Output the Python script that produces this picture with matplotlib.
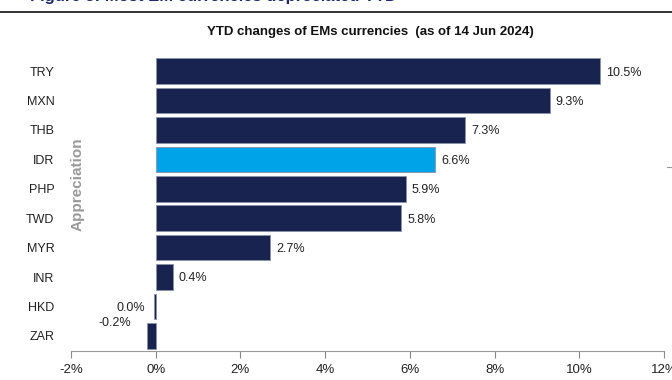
import matplotlib
matplotlib.use('Agg')
from matplotlib import pyplot as plt
from matplotlib.ticker import FuncFormatter

currencies = ['TRY', 'MXN', 'THB', 'IDR', 'PHP', 'TWD', 'MYR', 'INR', 'HKD', 'ZAR']
changes = [10.5, 9.3, 7.3, 6.6, 5.9, 5.8, 2.7, 0.4, -0.05, -0.2]
labels = ['10.5%', '9.3%', '7.3%', '6.6%', '5.9%', '5.8%', '2.7%', '0.4%', '0.0%', '-0.2%']
highlight = 'IDR'

NAVY = '#18244f'
CYAN = '#00a3e8'
NARROW = ['Liberation Sans Narrow', 'Liberation Sans', 'DejaVu Sans']

plt.rcParams['font.family'] = ['Liberation Sans', 'DejaVu Sans']

fig = plt.figure(figsize=(6.72, 3.8), dpi=100)
ax = fig.add_axes([71 / 672, 1 - 350.5 / 380, 593 / 672, 294 / 380])

ypos = list(range(len(currencies)))
colors = [CYAN if c == highlight else NAVY for c in currencies]
ax.barh(ypos, changes, height=0.87, color=colors, edgecolor='#8a93ad', linewidth=0.6)

for y, v, lab in zip(ypos, changes, labels):
    if v >= 0:
        ax.text(v + 0.14, y + 0.05, lab, ha='left', va='center', fontsize=9, color='#222222')
    elif lab == '0.0%':
        ax.text(v - 0.2, y + 0.05, lab, ha='right', va='center', fontsize=9, color='#222222')
    else:
        ax.text(-0.97, y - 0.45, lab, ha='center', va='center', fontsize=9, color='#222222')

ax.set_xlim(-2, 12)
ax.set_ylim(len(currencies) - 0.5, -0.5)
ax.set_xticks(range(-2, 13, 2))
ax.xaxis.set_major_formatter(FuncFormatter(lambda x, _: f'{x:.0f}%'))
ax.set_yticks(ypos)
ax.set_yticklabels(currencies)
ax.tick_params(axis='y', length=0, pad=12, labelsize=9, labelcolor='#222222')
ax.tick_params(axis='x', length=5, width=0.8, color='#888888', labelsize=9.5,
               labelcolor='#222222', pad=5)
for s in ['top', 'right', 'left']:
    ax.spines[s].set_visible(False)
ax.spines['bottom'].set_color('#999999')
ax.spines['bottom'].set_linewidth(0.8)

ax.text(-1.84, 3.85, 'Appreciation', rotation=90, ha='center', va='center',
        fontsize=11, fontweight='bold', color='#9a9a9a', family=NARROW)

fig.text(370 / 672, 1 - 32 / 380, 'YTD changes of EMs currencies  (as of 14 Jun 2024)',
         ha='center', va='center', fontsize=9.5, fontweight='bold', color='#111111',
         family=NARROW)

# header rule and clipped caption of the source page
fig.add_artist(plt.Line2D([0, 1], [1 - 12 / 380, 1 - 12 / 380], color='#111111', linewidth=1.2))
fig.text(0.045, 1 + 4 / 380, 'Figure 3: Most EM currencies depreciated YTD', ha='left',
         va='center', fontsize=12, fontweight='bold', color='#1a2a6c')
fig.add_artist(plt.Line2D([667 / 672, 671 / 672], [1 - 167 / 380, 1 - 167 / 380],
                          color='#999999', linewidth=0.8))

fig.savefig('out.png', dpi=100)
